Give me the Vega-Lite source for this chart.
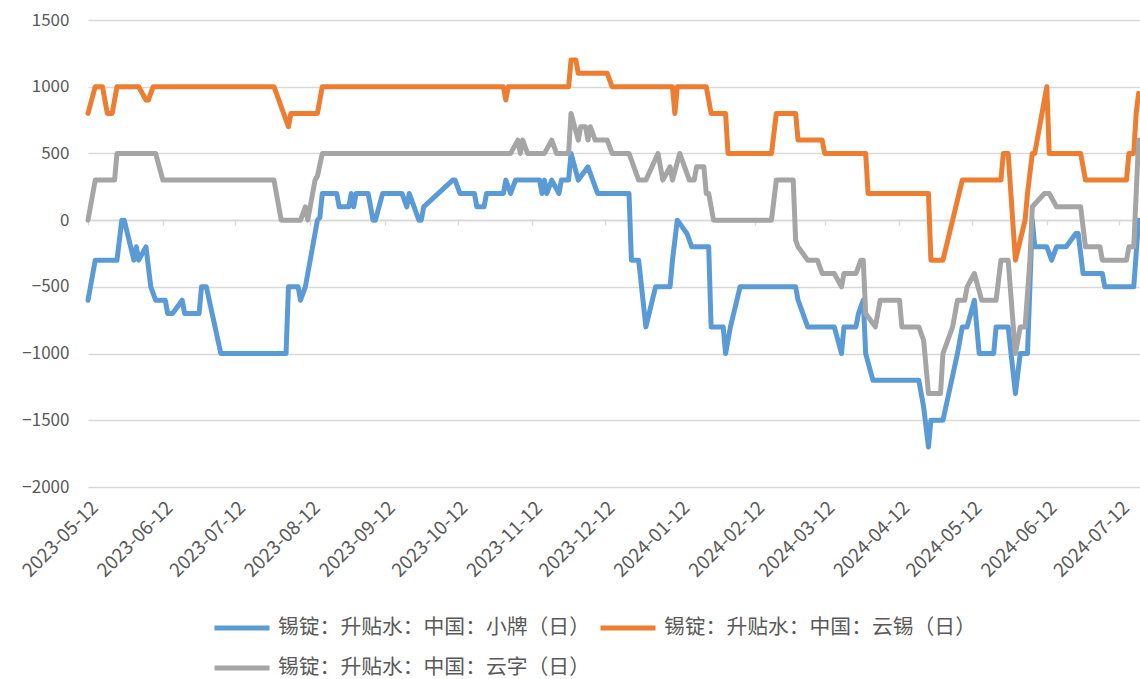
{
  "$schema": "https://vega.github.io/schema/vega-lite/v6.json",
  "width": 1052,
  "height": 467,
  "autosize": {"type": "none"},
  "padding": {"left": 88, "top": 20, "right": 0, "bottom": 192},
  "background": "white",
  "config": {"view": {"stroke": null}, "font": "Noto Sans CJK SC"},
  "datasets": {
    "blue": [
      {"date":"2023-05-12","value":-600},{"date":"2023-05-15","value":-300},{"date":"2023-05-24","value":-300},{"date":"2023-05-26","value":0},{"date":"2023-05-27","value":0},{"date":"2023-05-31","value":-300},{"date":"2023-06-01","value":-200},{"date":"2023-06-02","value":-300},{"date":"2023-06-05","value":-200},{"date":"2023-06-07","value":-500},{"date":"2023-06-09","value":-600},{"date":"2023-06-13","value":-600},{"date":"2023-06-14","value":-700},{"date":"2023-06-16","value":-700},{"date":"2023-06-20","value":-600},{"date":"2023-06-21","value":-700},{"date":"2023-06-27","value":-700},{"date":"2023-06-28","value":-500},{"date":"2023-06-30","value":-500},{"date":"2023-07-06","value":-1000},{"date":"2023-08-02","value":-1000},{"date":"2023-08-03","value":-500},{"date":"2023-08-07","value":-500},{"date":"2023-08-08","value":-600},{"date":"2023-08-10","value":-500},{"date":"2023-08-12","value":-300},{"date":"2023-08-15","value":0},{"date":"2023-08-16","value":20},{"date":"2023-08-17","value":200},{"date":"2023-08-23","value":200},{"date":"2023-08-24","value":100},{"date":"2023-08-28","value":100},{"date":"2023-08-29","value":200},{"date":"2023-08-30","value":100},{"date":"2023-08-31","value":200},{"date":"2023-09-05","value":200},{"date":"2023-09-07","value":0},{"date":"2023-09-08","value":0},{"date":"2023-09-11","value":200},{"date":"2023-09-19","value":200},{"date":"2023-09-21","value":100},{"date":"2023-09-22","value":200},{"date":"2023-09-26","value":0},{"date":"2023-09-27","value":0},{"date":"2023-09-28","value":100},{"date":"2023-10-10","value":300},{"date":"2023-10-11","value":300},{"date":"2023-10-13","value":200},{"date":"2023-10-19","value":200},{"date":"2023-10-20","value":100},{"date":"2023-10-23","value":100},{"date":"2023-10-24","value":200},{"date":"2023-10-31","value":200},{"date":"2023-11-01","value":300},{"date":"2023-11-03","value":200},{"date":"2023-11-05","value":300},{"date":"2023-11-15","value":300},{"date":"2023-11-16","value":200},{"date":"2023-11-17","value":300},{"date":"2023-11-18","value":200},{"date":"2023-11-20","value":300},{"date":"2023-11-23","value":200},{"date":"2023-11-24","value":300},{"date":"2023-11-27","value":300},{"date":"2023-11-28","value":500},{"date":"2023-12-01","value":300},{"date":"2023-12-05","value":400},{"date":"2023-12-07","value":300},{"date":"2023-12-09","value":200},{"date":"2023-12-22","value":200},{"date":"2023-12-23","value":-300},{"date":"2023-12-26","value":-300},{"date":"2023-12-29","value":-800},{"date":"2024-01-02","value":-500},{"date":"2024-01-08","value":-500},{"date":"2024-01-09","value":-300},{"date":"2024-01-11","value":0},{"date":"2024-01-15","value":-100},{"date":"2024-01-17","value":-200},{"date":"2024-01-24","value":-200},{"date":"2024-01-25","value":-800},{"date":"2024-01-30","value":-800},{"date":"2024-01-31","value":-1000},{"date":"2024-02-02","value":-800},{"date":"2024-02-06","value":-500},{"date":"2024-02-29","value":-500},{"date":"2024-03-01","value":-600},{"date":"2024-03-05","value":-800},{"date":"2024-03-16","value":-800},{"date":"2024-03-19","value":-1000},{"date":"2024-03-20","value":-800},{"date":"2024-03-25","value":-800},{"date":"2024-03-26","value":-700},{"date":"2024-03-28","value":-600},{"date":"2024-03-29","value":-1000},{"date":"2024-04-01","value":-1200},{"date":"2024-04-20","value":-1200},{"date":"2024-04-22","value":-1400},{"date":"2024-04-24","value":-1700},{"date":"2024-04-25","value":-1500},{"date":"2024-04-30","value":-1500},{"date":"2024-05-06","value":-1000},{"date":"2024-05-08","value":-800},{"date":"2024-05-10","value":-800},{"date":"2024-05-13","value":-600},{"date":"2024-05-15","value":-1000},{"date":"2024-05-21","value":-1000},{"date":"2024-05-22","value":-800},{"date":"2024-05-27","value":-800},{"date":"2024-05-30","value":-1300},{"date":"2024-06-01","value":-1000},{"date":"2024-06-04","value":-1000},{"date":"2024-06-06","value":0},{"date":"2024-06-07","value":-200},{"date":"2024-06-12","value":-200},{"date":"2024-06-14","value":-300},{"date":"2024-06-16","value":-200},{"date":"2024-06-20","value":-200},{"date":"2024-06-24","value":-100},{"date":"2024-06-25","value":-100},{"date":"2024-06-27","value":-400},{"date":"2024-07-05","value":-400},{"date":"2024-07-06","value":-500},{"date":"2024-07-18","value":-500},{"date":"2024-07-20","value":0}
    ],
    "orange": [
      {"date":"2023-05-12","value":800},{"date":"2023-05-15","value":1000},{"date":"2023-05-18","value":1000},{"date":"2023-05-20","value":800},{"date":"2023-05-22","value":800},{"date":"2023-05-24","value":1000},{"date":"2023-06-02","value":1000},{"date":"2023-06-05","value":900},{"date":"2023-06-06","value":900},{"date":"2023-06-08","value":1000},{"date":"2023-07-28","value":1000},{"date":"2023-08-01","value":800},{"date":"2023-08-03","value":700},{"date":"2023-08-04","value":800},{"date":"2023-08-15","value":800},{"date":"2023-08-17","value":1000},{"date":"2023-10-31","value":1000},{"date":"2023-11-01","value":900},{"date":"2023-11-02","value":1000},{"date":"2023-11-27","value":1000},{"date":"2023-11-28","value":1200},{"date":"2023-11-30","value":1200},{"date":"2023-12-01","value":1100},{"date":"2023-12-13","value":1100},{"date":"2023-12-15","value":1000},{"date":"2024-01-09","value":1000},{"date":"2024-01-10","value":800},{"date":"2024-01-11","value":1000},{"date":"2024-01-23","value":1000},{"date":"2024-01-25","value":800},{"date":"2024-01-31","value":800},{"date":"2024-02-01","value":500},{"date":"2024-02-19","value":500},{"date":"2024-02-21","value":800},{"date":"2024-02-29","value":800},{"date":"2024-03-01","value":600},{"date":"2024-03-11","value":600},{"date":"2024-03-12","value":500},{"date":"2024-03-29","value":500},{"date":"2024-03-30","value":200},{"date":"2024-04-24","value":200},{"date":"2024-04-25","value":-300},{"date":"2024-04-30","value":-300},{"date":"2024-05-08","value":300},{"date":"2024-05-24","value":300},{"date":"2024-05-25","value":500},{"date":"2024-05-27","value":500},{"date":"2024-05-30","value":-300},{"date":"2024-06-03","value":0},{"date":"2024-06-04","value":200},{"date":"2024-06-06","value":500},{"date":"2024-06-07","value":500},{"date":"2024-06-12","value":1000},{"date":"2024-06-13","value":500},{"date":"2024-06-26","value":500},{"date":"2024-06-28","value":300},{"date":"2024-07-15","value":300},{"date":"2024-07-16","value":500},{"date":"2024-07-18","value":500},{"date":"2024-07-19","value":800},{"date":"2024-07-20","value":950}
    ],
    "gray": [
      {"date":"2023-05-12","value":0},{"date":"2023-05-15","value":300},{"date":"2023-05-23","value":300},{"date":"2023-05-24","value":500},{"date":"2023-06-09","value":500},{"date":"2023-06-12","value":300},{"date":"2023-07-28","value":300},{"date":"2023-07-31","value":0},{"date":"2023-08-08","value":0},{"date":"2023-08-10","value":100},{"date":"2023-08-11","value":0},{"date":"2023-08-14","value":300},{"date":"2023-08-15","value":330},{"date":"2023-08-17","value":500},{"date":"2023-11-03","value":500},{"date":"2023-11-06","value":600},{"date":"2023-11-07","value":500},{"date":"2023-11-08","value":600},{"date":"2023-11-10","value":500},{"date":"2023-11-17","value":500},{"date":"2023-11-20","value":600},{"date":"2023-11-22","value":500},{"date":"2023-11-27","value":500},{"date":"2023-11-28","value":800},{"date":"2023-12-01","value":600},{"date":"2023-12-02","value":700},{"date":"2023-12-04","value":700},{"date":"2023-12-05","value":600},{"date":"2023-12-06","value":700},{"date":"2023-12-08","value":600},{"date":"2023-12-13","value":600},{"date":"2023-12-15","value":500},{"date":"2023-12-22","value":500},{"date":"2023-12-26","value":300},{"date":"2023-12-29","value":300},{"date":"2024-01-03","value":500},{"date":"2024-01-05","value":300},{"date":"2024-01-08","value":400},{"date":"2024-01-09","value":300},{"date":"2024-01-12","value":500},{"date":"2024-01-16","value":300},{"date":"2024-01-18","value":300},{"date":"2024-01-19","value":400},{"date":"2024-01-22","value":400},{"date":"2024-01-23","value":200},{"date":"2024-01-24","value":200},{"date":"2024-01-26","value":0},{"date":"2024-02-19","value":0},{"date":"2024-02-21","value":300},{"date":"2024-02-28","value":300},{"date":"2024-02-29","value":-150},{"date":"2024-03-01","value":-200},{"date":"2024-03-05","value":-300},{"date":"2024-03-09","value":-300},{"date":"2024-03-11","value":-400},{"date":"2024-03-16","value":-400},{"date":"2024-03-19","value":-500},{"date":"2024-03-20","value":-400},{"date":"2024-03-25","value":-400},{"date":"2024-03-27","value":-300},{"date":"2024-03-28","value":-300},{"date":"2024-03-29","value":-700},{"date":"2024-04-02","value":-800},{"date":"2024-04-04","value":-600},{"date":"2024-04-12","value":-600},{"date":"2024-04-13","value":-800},{"date":"2024-04-20","value":-800},{"date":"2024-04-22","value":-900},{"date":"2024-04-24","value":-1300},{"date":"2024-04-29","value":-1300},{"date":"2024-04-30","value":-1000},{"date":"2024-05-04","value":-800},{"date":"2024-05-06","value":-600},{"date":"2024-05-09","value":-600},{"date":"2024-05-10","value":-500},{"date":"2024-05-13","value":-400},{"date":"2024-05-16","value":-600},{"date":"2024-05-22","value":-600},{"date":"2024-05-24","value":-300},{"date":"2024-05-27","value":-300},{"date":"2024-05-30","value":-1000},{"date":"2024-06-01","value":-800},{"date":"2024-06-03","value":-800},{"date":"2024-06-05","value":-300},{"date":"2024-06-06","value":100},{"date":"2024-06-11","value":200},{"date":"2024-06-13","value":200},{"date":"2024-06-16","value":100},{"date":"2024-06-26","value":100},{"date":"2024-06-28","value":-200},{"date":"2024-07-04","value":-200},{"date":"2024-07-05","value":-300},{"date":"2024-07-15","value":-300},{"date":"2024-07-16","value":-200},{"date":"2024-07-18","value":-200},{"date":"2024-07-20","value":600}
    ]
  },
  "layer": [
    {
      "layer": [
        {"data": {"name": "blue"}, "transform": [{"calculate": "'锡锭：升贴水：中国：小牌（日）'", "as": "series"}], "mark": {"type": "line", "strokeWidth": 5, "strokeJoin": "round", "strokeCap": "round"}, "encoding": {}},
        {"data": {"name": "orange"}, "transform": [{"calculate": "'锡锭：升贴水：中国：云锡（日）'", "as": "series"}], "mark": {"type": "line", "strokeWidth": 5, "strokeJoin": "round", "strokeCap": "round"}, "encoding": {}},
        {"data": {"name": "gray"}, "transform": [{"calculate": "'锡锭：升贴水：中国：云字（日）'", "as": "series"}], "mark": {"type": "line", "strokeWidth": 5, "strokeJoin": "round", "strokeCap": "round"}, "encoding": {}}
      ],
      "encoding": {
        "x": {"field": "date", "type": "temporal",
          "scale": {"type": "utc", "domain": [{"year": 2023, "month": 5, "date": 12, "utc": true}, {"year": 2024, "month": 7, "date": 20, "hours": 14, "utc": true}]},
          "axis": {"title": null, "grid": false, "domain": false, "ticks": false, "orient": "bottom",
            "values": [{"year":2023,"month":5,"date":12,"utc":true},{"year":2023,"month":6,"date":12,"utc":true},{"year":2023,"month":7,"date":12,"utc":true},{"year":2023,"month":8,"date":12,"utc":true},{"year":2023,"month":9,"date":12,"utc":true},{"year":2023,"month":10,"date":12,"utc":true},{"year":2023,"month":11,"date":12,"utc":true},{"year":2023,"month":12,"date":12,"utc":true},{"year":2024,"month":1,"date":12,"utc":true},{"year":2024,"month":2,"date":12,"utc":true},{"year":2024,"month":3,"date":12,"utc":true},{"year":2024,"month":4,"date":12,"utc":true},{"year":2024,"month":5,"date":12,"utc":true},{"year":2024,"month":6,"date":12,"utc":true},{"year":2024,"month":7,"date":12,"utc":true}],
            "labelExpr": "utcFormat(datum.value, '%Y-%m-%d')", "labelAngle": -45, "labelFontSize": 19, "labelColor": "#595959", "labelPadding": 11, "labelDx": -6, "labelOverlap": false, "labelBound": false, "labelFlush": false}},
        "y": {"field": "value", "type": "quantitative",
          "scale": {"domain": [-2000, 1500], "nice": false, "zero": false},
          "axis": {"title": null, "format": "d", "values": [-2000, -1500, -1000, -500, 0, 500, 1000, 1500], "grid": true, "gridColor": "#d9d9d9", "gridWidth": 1.3, "domain": false, "ticks": false, "labelPadding": 19, "labelFontSize": 17, "labelColor": "#595959"}},
        "color": {"field": "series", "type": "nominal",
          "scale": {"domain": ["锡锭：升贴水：中国：小牌（日）", "锡锭：升贴水：中国：云锡（日）", "锡锭：升贴水：中国：云字（日）"], "range": ["#5B9BD5", "#ED7D31", "#A5A5A5"]},
          "legend": {"orient": "none", "legendX": 124, "legendY": 578, "direction": "horizontal", "columns": 2, "title": null, "symbolType": "stroke", "symbolSize": 3025, "symbolStrokeWidth": 5, "labelFontSize": 20.8, "labelColor": "#595959", "labelLimit": 500, "labelOffset": 6, "columnPadding": 0, "rowPadding": -17, "padding": 0}}
      }
    },
    {
      "data": {"name": "blue"},
      "mark": {"type": "rule", "opacity": 0},
      "encoding": {
        "x": {"field": "date", "type": "temporal",
          "axis": {"title": null, "grid": false, "labels": false, "orient": "bottom", "offset": -267, "domain": true, "domainColor": "#d9d9d9", "domainWidth": 1.3, "ticks": true, "tickSize": 5, "tickColor": "#d9d9d9", "tickWidth": 1.3,
            "values": [{"year":2023,"month":5,"date":12,"utc":true},{"year":2023,"month":6,"date":12,"utc":true},{"year":2023,"month":7,"date":12,"utc":true},{"year":2023,"month":8,"date":12,"utc":true},{"year":2023,"month":9,"date":12,"utc":true},{"year":2023,"month":10,"date":12,"utc":true},{"year":2023,"month":11,"date":12,"utc":true},{"year":2023,"month":12,"date":12,"utc":true},{"year":2024,"month":1,"date":12,"utc":true},{"year":2024,"month":2,"date":12,"utc":true},{"year":2024,"month":3,"date":12,"utc":true},{"year":2024,"month":4,"date":12,"utc":true},{"year":2024,"month":5,"date":12,"utc":true},{"year":2024,"month":6,"date":12,"utc":true},{"year":2024,"month":7,"date":12,"utc":true}]}}
      }
    }
  ],
  "resolve": {"axis": {"x": "independent"}}
}
